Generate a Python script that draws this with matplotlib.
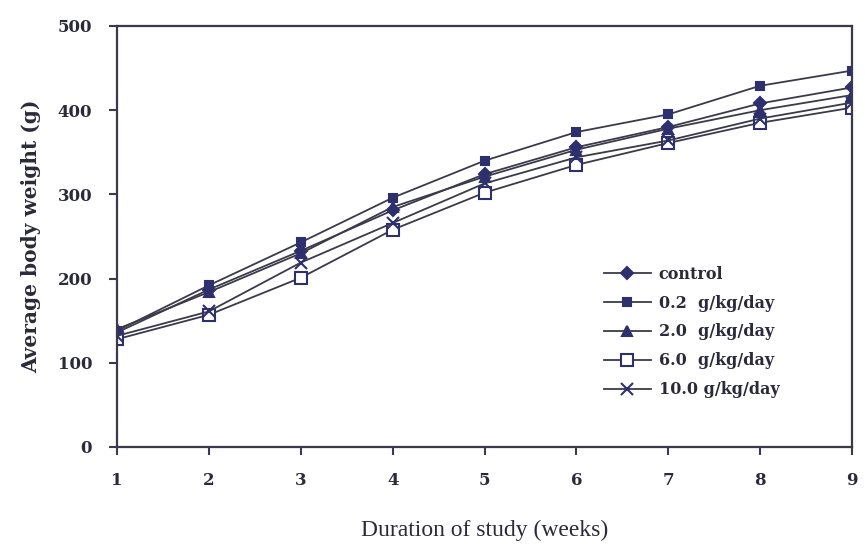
import matplotlib
matplotlib.use("Agg")
import matplotlib.pyplot as plt

# data (weeks 1..9, grams)
weeks = [1, 2, 3, 4, 5, 6, 7, 8, 9]
control = [136, 187, 233, 281, 324, 356, 380, 408, 427]
dose_02 = [138, 192, 243, 296, 340, 374, 395, 429, 447]
dose_20 = [140, 184, 230, 285, 321, 353, 378, 400, 418]
dose_60 = [128, 157, 201, 258, 302, 335, 361, 385, 403]
dose_100 = [132, 161, 219, 266, 313, 344, 364, 390, 409]

labels = ["control", "0.2  g/kg/day", "2.0  g/kg/day", "6.0  g/kg/day", "10.0 g/kg/day"]

navy = "#2d2f6e"
line_col = "#3a3a4a"
wide_serif = ["DejaVu Serif"]
serif = ["Liberation Serif", "DejaVu Serif"]

fig = plt.figure(figsize=(8.65, 5.55), dpi=100)
ax = fig.add_axes([0.1353, 0.1946, 0.8497, 0.7586])

series = [
    (control, "D", navy, 6),
    (dose_02, "s", navy, 6),
    (dose_20, "^", navy, 7),
    (dose_60, "s", "white", 9),
    (dose_100, "x", navy, 9),
]
for (vals, mk, fc, ms), lab in zip(series, labels):
    ax.plot(weeks, vals, color=line_col, lw=1.3, marker=mk, markersize=ms,
            markerfacecolor=fc, markeredgecolor=navy, markeredgewidth=1.5,
            label=lab)

ax.set_xlim(1, 9)
ax.set_ylim(0, 500)
ax.set_xticks(weeks)
ax.set_yticks([0, 100, 200, 300, 400, 500])

for side in ["left", "bottom", "top", "right"]:
    ax.spines[side].set_color(line_col)
    ax.spines[side].set_linewidth(1.6)

ax.tick_params(axis="both", direction="out", length=6, width=1.5, color=line_col,
               labelsize=12, labelcolor="#2a2a3a")
ax.tick_params(axis="x", pad=12)
ax.tick_params(axis="y", pad=12)
for t in ax.get_xticklabels() + ax.get_yticklabels():
    t.set_family(wide_serif)
    t.set_fontweight("bold")

ax.set_ylabel("Average body weight (g)", fontsize=14.5, fontweight="bold",
              family=wide_serif, color="#2a2a3a", labelpad=12)
ax.set_xlabel("Duration of study (weeks)", fontsize=17, family=serif,
              color="#2a2a3a", labelpad=22)

leg = ax.legend(loc="upper left", bbox_to_anchor=(0.652, 0.45), frameon=False,
                borderpad=0, handlelength=2.9, labelspacing=0.75, handletextpad=0.5,
                prop={"family": wide_serif, "weight": "bold", "size": 11.5})
for t in leg.get_texts():
    t.set_color("#2a2a3a")

fig.savefig("out.png", dpi=100)
